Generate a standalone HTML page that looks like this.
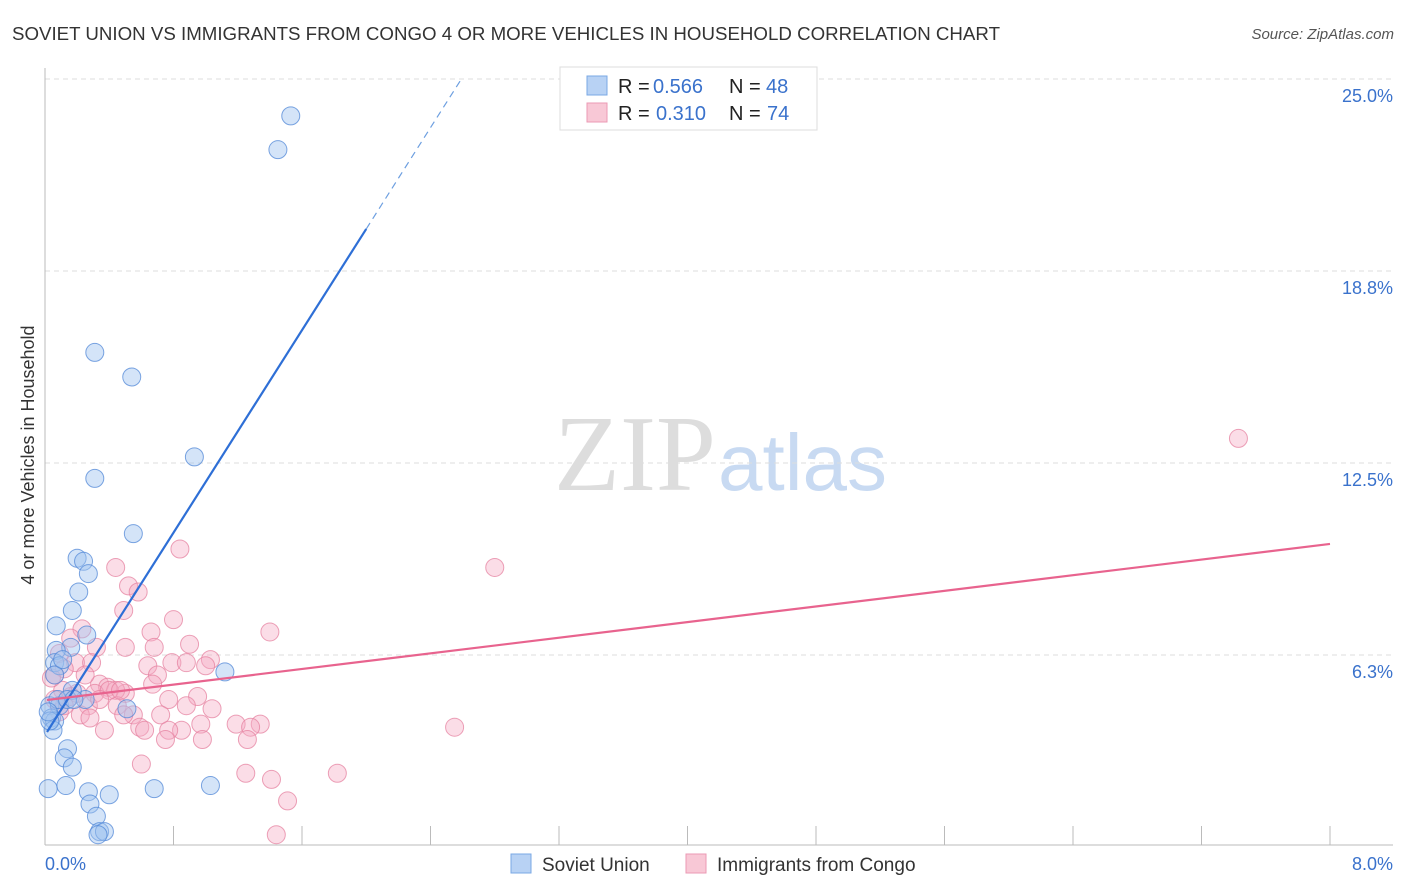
<!DOCTYPE html>
<html><head><meta charset="utf-8"><style>
body{margin:0;background:#fff;font-family:"Liberation Sans",sans-serif;}
svg{display:block}
</style></head><body>
<svg id="chart" width="1406" height="892">
<text x="12" y="40" font-size="18" fill="#333" textLength="988" lengthAdjust="spacingAndGlyphs">SOVIET UNION VS IMMIGRANTS FROM CONGO 4 OR MORE VEHICLES IN HOUSEHOLD CORRELATION CHART</text>
<text x="1394" y="39" font-size="15" fill="#555" font-style="italic" text-anchor="end">Source: ZipAtlas.com</text>
<text x="716" y="490" font-size="108" fill="#ddd" text-anchor="end" font-family="Liberation Serif">ZIP</text>
<text x="718" y="490" font-size="80" fill="#c8daf2">atlas</text>
<text transform="translate(34,455) rotate(-90)" font-size="18" fill="#333" text-anchor="middle">4 or more Vehicles in Household</text>
<g id="grid"></g><g id="marks"></g><g id="lines"></g>
<g>
<rect x="560" y="67" width="257" height="63" fill="#fff" stroke="#ddd"/>
<rect x="587" y="76" width="20" height="19" fill="#b8d2f4" stroke="#7aa8e4"/>
<rect x="587" y="103" width="20" height="19" fill="#f8c8d6" stroke="#eb9ab4"/>
<text x="618" y="93" font-size="20" fill="#222">R =</text>
<text x="653" y="93" font-size="20" fill="#3a72cc">0.566</text>
<text x="729" y="93" font-size="20" fill="#222">N =</text>
<text x="766" y="93" font-size="20" fill="#3a72cc">48</text>
<text x="618" y="120" font-size="20" fill="#222">R =</text>
<text x="656" y="120" font-size="20" fill="#3a72cc">0.310</text>
<text x="729" y="120" font-size="20" fill="#222">N =</text>
<text x="767" y="120" font-size="20" fill="#3a72cc">74</text>
</g>
<g>
<rect x="511" y="854" width="20" height="19" fill="#b8d2f4" stroke="#7aa8e4"/>
<text x="542" y="871" font-size="19" fill="#333">Soviet Union</text>
<rect x="686" y="854" width="20" height="19" fill="#f8c8d6" stroke="#eb9ab4"/>
<text x="717" y="871" font-size="19" fill="#333">Immigrants from Congo</text>
</g>
<text x="45" y="870" font-size="18" fill="#3a72cc">0.0%</text>
<text x="1393" y="870" font-size="18" fill="#3a72cc" text-anchor="end">8.0%</text>
</svg>
<script>
const yTicks=[6.25,12.5,18.75,25];
const yTickLabels=["6.3%","12.5%","18.8%","25.0%"];
const xTicks=[0,0.8,1.6,2.4,3.2,4.0,4.8,5.6,6.4,7.2,8.0];
const blueX=[1.53,1.45,0.31,0.54,0.93,0.31,0.55,0.20,0.24,0.27,0.21,0.17,0.07,0.26,0.16,0.07,0.06,0.09,1.12,0.03,0.09,0.51,0.04,0.06,0.05,0.14,0.12,0.17,0.02,0.13,0.27,0.40,0.68,1.03,0.28,0.32,0.34,0.37,0.33,0.03,0.25,0.08,0.17,0.06,0.11,0.02,0.14,0.18];
const blueY=[23.8,22.7,16.1,15.3,12.7,12.0,10.2,9.4,9.3,8.9,8.3,7.7,7.2,6.9,6.5,6.4,6.0,5.9,5.7,4.6,4.6,4.5,4.2,4.1,3.8,3.2,2.9,2.6,1.9,2.0,1.8,1.7,1.9,2.0,1.4,1.0,0.5,0.5,0.4,4.1,4.8,4.8,5.1,5.6,6.1,4.4,4.8,4.8];
const pinkX=[7.43,2.80,0.84,0.44,0.52,0.58,0.49,0.80,0.23,0.66,1.40,0.32,0.50,0.90,0.68,0.09,0.19,0.29,0.79,0.88,0.64,1.03,1.00,0.12,0.06,0.70,0.34,0.39,0.67,0.50,0.31,0.20,0.44,0.16,0.11,0.95,0.77,0.88,0.45,0.27,1.04,0.22,0.55,0.72,0.49,0.59,0.97,1.19,1.34,1.28,0.37,0.62,0.85,0.77,0.75,0.98,1.26,2.55,0.60,1.25,1.41,1.82,1.51,1.44,0.06,0.09,0.04,0.16,0.40,0.25,0.12,0.34,0.47,0.28];
const pinkY=[13.3,9.1,9.7,9.1,8.5,8.3,7.7,7.4,7.1,7.0,7.0,6.5,6.5,6.6,6.5,6.3,6.0,6.0,6.0,6.0,5.9,6.1,5.9,5.8,5.6,5.6,5.3,5.2,5.3,5.0,5.0,5.0,5.1,4.9,5.1,4.9,4.8,4.6,4.6,4.6,4.5,4.3,4.3,4.3,4.3,3.9,4.0,4.0,4.0,3.9,3.8,3.8,3.8,3.8,3.5,3.5,3.5,3.9,2.7,2.4,2.2,2.4,1.5,0.4,4.8,4.4,5.5,6.8,5.1,5.6,4.6,4.8,5.1,4.2];
const blueFit=[3.64,8.24];
const pinkFit=[4.785,0.635];
const X0=45,X1=1330,Y0=847,YPX=192/6.25;
const sx=v=>X0+(X1-X0)*v/8, sy=v=>Y0-v*YPX;
const NS="http://www.w3.org/2000/svg";
function mk(t,a,p){const e=document.createElementNS(NS,t);for(const k in a)e.setAttribute(k,a[k]);p.appendChild(e);return e;}
const grid=document.getElementById('grid'),marks=document.getElementById('marks'),lines=document.getElementById('lines');
yTicks.forEach((t,i)=>{
 const l=mk('line',{x1:X0,x2:1393,y1:sy(t),y2:sy(t),stroke:'#ddd','stroke-dasharray':'5,4'},grid);
 
 
 const tx=mk('text',{x:1393,y:sy(t)+23,'font-size':18,fill:'#3a72cc','text-anchor':'end'},grid);
 tx.textContent=yTickLabels[i];
 
 
});
const ax=mk('line',{x1:X0,x2:1393,y1:845,y2:845,stroke:'#bbb'},grid);


const ay=mk('line',{x1:X0,x2:X0,y1:68,y2:845,stroke:'#bbb'},grid);


xTicks.forEach(t=>{
 const l=mk('line',{x1:sx(t),x2:sx(t),y1:826,y2:845,stroke:'#bbb'},grid);
 
 
});
pinkX.forEach((v,i)=>{
 const c=mk('circle',{cx:sx(v),cy:sy(pinkY[i]),r:9,fill:'rgba(245,170,195,0.4)',stroke:'rgba(230,130,160,0.75)','stroke-width':1},marks);
 
 
});
blueX.forEach((v,i)=>{
 const c=mk('circle',{cx:sx(v),cy:sy(blueY[i]),r:9,fill:'rgba(160,195,240,0.45)',stroke:'rgba(80,135,215,0.75)','stroke-width':1},marks);
 
 
});
const bEnd=2.0, bDash=(25-blueFit[0])/blueFit[1];
const b1=mk('line',{x1:sx(0.0125),y1:sy(blueFit[0]+blueFit[1]*0.0125),x2:sx(bEnd),y2:sy(blueFit[0]+blueFit[1]*bEnd),stroke:'#2e6fd6','stroke-width':2.2},lines);


const b2=mk('line',{x1:sx(bEnd),y1:sy(blueFit[0]+blueFit[1]*bEnd),x2:sx(bDash),y2:sy(25),stroke:'#6d9fe0','stroke-width':1.2,'stroke-dasharray':'7,5'},lines);


const p1=mk('line',{x1:sx(0.0125),y1:sy(pinkFit[0]),x2:sx(8),y2:sy(pinkFit[0]+pinkFit[1]*8),stroke:'#e8638e','stroke-width':2.2},lines);


</script>
</body></html>
